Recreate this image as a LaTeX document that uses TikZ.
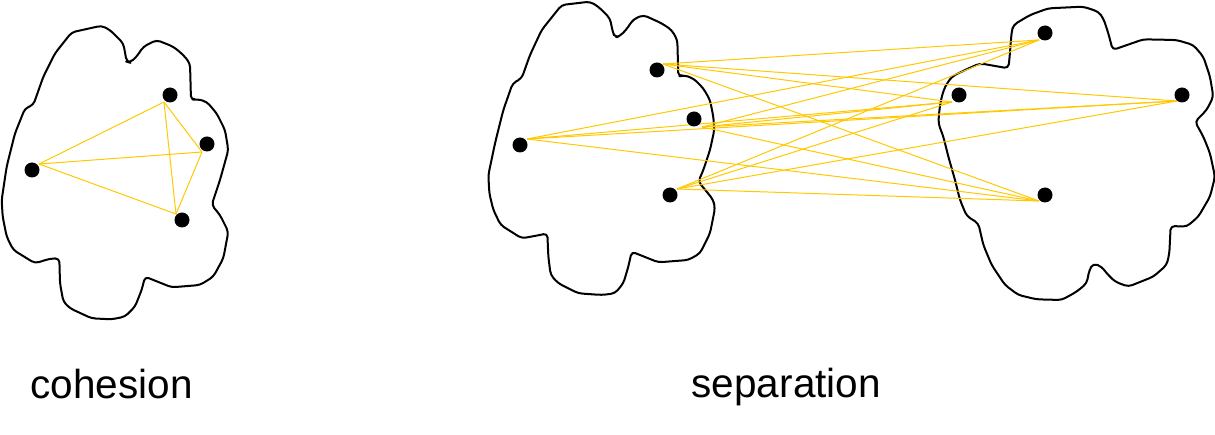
\documentclass[tikz,border=0pt]{standalone}
\usepackage{fontspec}
\setmainfont{Liberation Sans}
\definecolor{linkyellow}{RGB}{255,200,0}
\begin{document}
\begin{tikzpicture}[x=1pt,y=-1pt,
  blob/.style={draw=black,line width=2pt,rounded corners=4pt,line join=round},
  dot/.style={circle,fill=black,inner sep=0pt,minimum size=15pt},
  link/.style={draw=linkyellow,line width=1pt},
  caption/.style={anchor=base west,inner sep=0pt,font=\fontsize{40.5}{48}\selectfont}]
\useasboundingbox (0,0) rectangle (1215,435);
% cohesion blob
\begin{scope}[x=1/3 pt,y=-1/3 pt]
\draw[blob] (215,97) -- (305,77) -- (330,90) -- (370,130) -- (380,185) -- (390,188) -- (410,170) -- (430,140) -- (470,120) -- (520,140) -- (550,165) -- (570,190) -- (573,300) -- (590,297) -- (620,305) -- (650,340) -- (675,390) -- (685,450) -- (660,540) -- (635,615) -- (660,645) -- (685,695) -- (670,775) -- (640,830) -- (600,855) -- (515,862) -- (435,830) -- (425,870) -- (405,920) -- (375,950) -- (335,958) -- (275,955) -- (210,925) -- (190,905) -- (180,850) -- (178,775) -- (150,776) -- (105,790) -- (40,750) -- (20,710) -- (8,650) -- (5,600) -- (20,500) -- (45,400) -- (75,325) -- (100,315) -- (130,230) -- (165,160) -- cycle;
\end{scope}
% separation left blob
\begin{scope}[xshift=480pt,x=1/3 pt,y=-1/3 pt]
\draw[blob] (245,15) -- (330,5) -- (355,20) -- (390,55) -- (398,95) -- (405,113) -- (420,108) -- (438,90) -- (460,58) -- (490,45) -- (545,70) -- (575,90) -- (592,120) -- (595,230) -- (610,225) -- (640,235) -- (670,265) -- (690,300) -- (700,350) -- (703,390) -- (690,450) -- (670,510) -- (655,545) -- (680,575) -- (700,600) -- (705,625) -- (690,700) -- (660,760) -- (625,780) -- (535,787) -- (455,755) -- (445,800) -- (430,850) -- (405,880) -- (365,885) -- (295,880) -- (235,850) -- (212,825) -- (205,770) -- (202,700) -- (180,705) -- (125,715) -- (62,675) -- (40,630) -- (28,580) -- (25,525) -- (45,430) -- (70,330) -- (98,250) -- (125,235) -- (150,165) -- (185,90) -- cycle;
\end{scope}
% separation right blob
\begin{scope}[xshift=930pt,x=1/3 pt,y=-1/3 pt]
\draw[blob] (250,75) -- (300,45) -- (355,25) -- (460,20) -- (505,35) -- (520,55) -- (535,100) -- (548,150) -- (640,118) -- (740,120) -- (790,135) -- (820,170) -- (840,230) -- (850,290) -- (830,330) -- (795,365) -- (820,410) -- (840,460) -- (855,530) -- (840,590) -- (805,650) -- (770,680) -- (722,678) -- (718,760) -- (710,795) -- (670,830) -- (595,860) -- (555,845) -- (530,820) -- (515,800) -- (490,790) -- (478,810) -- (470,850) -- (440,875) -- (395,900) -- (320,898) -- (265,885) -- (225,855) -- (185,795) -- (160,735) -- (145,670) -- (110,648) -- (90,600) -- (75,540) -- (55,470) -- (40,410) -- (25,370) -- (28,330) -- (35,290) -- (45,260) -- (65,230) -- (105,210) -- (150,190) -- (235,205) -- (238,180) -- (245,95) -- cycle;
\end{scope}
% line end points
\coordinate (c1e) at (39,164);
\coordinate (c2e) at (164,102);
\coordinate (c3e) at (202,152);
\coordinate (c4e) at (176,214);
\coordinate (l1e) at (663,64);
\coordinate (l2e) at (702,127);
\coordinate (l3e) at (527,139);
\coordinate (l4e) at (677,189);
\coordinate (r1e) at (1039,40);
\coordinate (r2e) at (952,102);
\coordinate (r3e) at (1177,101);
\coordinate (r4e) at (1039,201);
% cohesion links
\draw[link] (c1e) -- (c2e);
\draw[link] (c1e) -- (c3e);
\draw[link] (c1e) -- (c4e);
\draw[link] (c2e) -- (c3e);
\draw[link] (c2e) -- (c4e);
\draw[link] (c3e) -- (c4e);
% separation links
\foreach \l in {l1e,l2e,l3e,l4e}{
  \foreach \r in {r1e,r2e,r3e,r4e}{
    \draw[link] (\l) -- (\r);
  }
}
% dots
\node[dot] (c1) at (32,170) {};
\node[dot] (c2) at (170,95) {};
\node[dot] (c3) at (207,144) {};
\node[dot] (c4) at (182,220) {};
\node[dot] (l1) at (657,70) {};
\node[dot] (l2) at (694,119) {};
\node[dot] (l3) at (520,145) {};
\node[dot] (l4) at (670,195) {};
\node[dot] (r1) at (1045,33) {};
\node[dot] (r2) at (959,95) {};
\node[dot] (r3) at (1182,95) {};
\node[dot] (r4) at (1045,195) {};
% captions
\node[caption] (cohesion) at (30.5,398) {cohesion};
\node[caption] (separation) at (691.5,397) {separation};
\end{tikzpicture}
\end{document}
